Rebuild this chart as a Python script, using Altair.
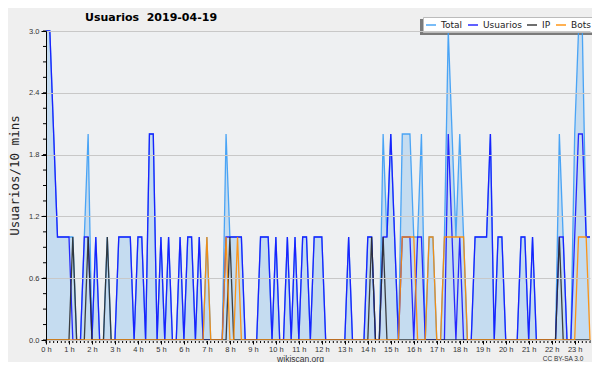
import altair as alt
import pandas as pd
import numpy as np

# 10-minute samples from 00:00 to 23:40 (143 samples)
total = [3, 3, 2, 1, 1, 1, 1, 1, 0, 0, 1, 2, 0, 1, 0, 0, 1, 0, 0, 1,
         1, 1, 1, 0, 1, 1, 0, 2, 2, 0, 1, 0, 1, 0, 0, 1, 0, 1, 1, 0,
         1, 0, 1, 0, 0, 0, 0, 2, 1, 1, 1, 1, 0, 0, 0, 0, 1, 1, 1, 0,
         1, 0, 0, 1, 0, 1, 0, 1, 1, 0, 1, 1, 1, 0, 0, 0, 0, 0, 0, 1,
         0, 0, 0, 0, 1, 1, 0, 0, 2, 1, 2, 1, 0, 2, 2, 2, 1, 1, 2, 0,
         1, 1, 0, 0, 1, 3, 2, 1, 2, 1, 0, 0, 1, 1, 1, 1, 2, 0, 1, 1,
         0, 0, 0, 0, 1, 1, 0, 1, 0, 0, 0, 0, 0, 0, 2, 1, 0, 0, 2, 3,
         3, 1, 1]
usuarios = [3, 3, 2, 1, 1, 1, 1, 0, 0, 0, 1, 1, 0, 1, 0, 0, 0, 0, 0, 1,
            1, 1, 1, 0, 1, 1, 0, 2, 2, 0, 1, 0, 1, 0, 0, 1, 0, 1, 1, 0,
            1, 0, 0, 0, 0, 0, 0, 1, 1, 1, 1, 1, 0, 0, 0, 0, 1, 1, 1, 0,
            1, 0, 0, 1, 0, 1, 0, 1, 1, 0, 1, 1, 1, 0, 0, 0, 0, 0, 0, 1,
            0, 0, 0, 0, 1, 1, 0, 0, 1, 1, 2, 1, 0, 1, 1, 1, 0, 1, 1, 0,
            0, 0, 0, 0, 0, 2, 1, 0, 1, 0, 0, 0, 1, 1, 1, 1, 2, 0, 1, 1,
            0, 0, 0, 0, 1, 1, 0, 1, 0, 0, 0, 0, 0, 0, 1, 1, 0, 0, 1, 2,
            2, 1, 1]
ip = [0, 0, 0, 0, 0, 0, 0, 1, 0, 0, 0, 1, 0, 0, 0, 0, 1, 0, 0, 0,
      0, 0, 0, 0, 0, 0, 0, 0, 0, 0, 0, 0, 0, 0, 0, 0, 0, 0, 0, 0,
      0, 0, 0, 0, 0, 0, 0, 0, 1, 0, 0, 0, 0, 0, 0, 0, 0, 0, 0, 0,
      0, 0, 0, 0, 0, 0, 0, 0, 0, 0, 0, 0, 0, 0, 0, 0, 0, 0, 0, 0,
      0, 0, 0, 0, 0, 1, 0, 0, 1, 0, 0, 0, 0, 0, 0, 0, 0, 0, 0, 0,
      0, 0, 0, 0, 0, 0, 0, 0, 0, 0, 0, 0, 0, 0, 0, 0, 0, 0, 0, 0,
      0, 0, 0, 0, 0, 0, 0, 0, 0, 0, 0, 0, 0, 0, 1, 0, 0, 0, 0, 0,
      0, 0, 0]
bots = [0, 0, 0, 0, 0, 0, 0, 0, 0, 0, 0, 0, 0, 0, 0, 0, 0, 0, 0, 0,
        0, 0, 0, 0, 0, 0, 0, 0, 0, 0, 0, 0, 0, 0, 0, 0, 0, 0, 0, 0,
        0, 0, 1, 0, 0, 0, 0, 1, 0, 0, 1, 0, 0, 0, 0, 0, 0, 0, 0, 0,
        0, 0, 0, 0, 0, 0, 0, 0, 0, 0, 0, 0, 0, 0, 0, 0, 0, 0, 0, 0,
        0, 0, 0, 0, 0, 0, 0, 0, 0, 0, 0, 0, 0, 1, 1, 1, 1, 0, 0, 0,
        1, 1, 0, 0, 1, 1, 1, 1, 1, 1, 0, 0, 0, 0, 0, 0, 0, 0, 0, 0,
        0, 0, 0, 0, 0, 0, 0, 0, 0, 0, 0, 0, 0, 0, 0, 0, 0, 0, 0, 1,
        1, 1, 0]

series_names = ["Total", "Usuarios", "IP", "Bots"]
series_colors = ["#3a9cf5", "#1414ff", "#2b2b2b", "#ff8c00"]
y_tick_values = [0.0, 0.6, 1.2, 1.8, 2.4, 3.0]
hour_ticks = list(range(24))

n = len(total)
hours = [i / 6 for i in range(n)]
rows = []
for name, vals in zip(series_names, [total, usuarios, ip, bots]):
    for h, v in zip(hours, vals):
        rows.append({"hour": h, "value": v, "series": name})
df = pd.DataFrame(rows)

minor_y = pd.DataFrame({"value": np.round(np.arange(0, 3.0001, 0.15), 2)})
minor_x = pd.DataFrame({"hour": hours})

W, H = 544, 309
FONT = "DejaVu Sans"
SMALL = "Liberation Sans"
x_scale = alt.Scale(domain=[0, hours[-1]], nice=False, zero=False)
y_scale = alt.Scale(domain=[0, 3], nice=False)
color_scale = alt.Scale(domain=series_names, range=series_colors)

x_axis = alt.Axis(values=hour_ticks, labelExpr="datum.value + ' h'", grid=False,
                  title="wikiscan.org", titleFont=SMALL, titleFontSize=8.5,
                  titleFontWeight="normal", titleColor="#333", titleX=254,
                  titleY=21, titleBaseline="alphabetic",
                  labelFont=SMALL, labelFontSize=7.5, labelColor="#333",
                  labelPadding=1, tickSize=4, tickColor="black",
                  domainColor="black", labelOverlap=False, labelFlush=False)
y_axis = alt.Axis(values=y_tick_values, format=".1f", grid=True, gridColor="#c8c8c8",
                  gridWidth=1, title="Usuarios/10 mins", titleFont="DejaVu Sans Mono",
                  titleFontSize=12.5, titleFontWeight="normal", titleColor="#222",
                  titleX=-32, titleY=144, titleAngle=270, titleAlign="center",
                  titleBaseline="middle",
                  labelFont=SMALL, labelFontSize=7.5, labelColor="#333", labelPadding=2,
                  tickSize=5, tickColor="black", domainColor="black", zindex=1)

X = alt.X("hour:Q", scale=x_scale, axis=x_axis)
Y = alt.Y("value:Q", scale=y_scale, axis=y_axis)

area = alt.Chart(df).transform_filter(alt.datum.series == "Total").mark_area(
    color="#c5dcf0", opacity=1, interpolate="linear"
).encode(x=X, y=Y)

legend_shadow = alt.Chart(pd.DataFrame({"k": [0]})).mark_rect(
    color="#7a7a7a"
).encode(x=alt.value(374), x2=alt.value(548), y=alt.value(-12), y2=alt.value(4))

legend = alt.Legend(title=None, orient="none", legendX=377, legendY=-14,
                    direction="horizontal", symbolType="stroke", symbolStrokeWidth=1.5,
                    symbolSize=100, labelFont=FONT, labelFontSize=9, labelColor="#222",
                    fillColor="white", strokeColor="#bbb", padding=2, columnPadding=2,
                    labelOffset=4, gridAlign="none")

line_layers = []
for name in series_names:
    line_layers.append(
        alt.Chart(df).transform_filter(alt.datum.series == name).mark_line(
            strokeWidth=1.3, opacity=0.9, interpolate="linear"
        ).encode(
            x=X, y=Y,
            color=alt.Color("series:N", scale=color_scale, legend=legend),
        )
    )

ticks_y = alt.Chart(minor_y).mark_rule(color="black", strokeWidth=1).encode(
    y=Y, x=alt.value(-3), x2=alt.value(0)
)
ticks_x = alt.Chart(minor_x).mark_rule(color="black", strokeWidth=1).encode(
    x=X, y=alt.value(H), y2=alt.value(H + 3)
)
title_text = alt.Chart(pd.DataFrame({"t": ["Usuarios\u00a0\u00a02019-04-19"]})).mark_text(
    font=FONT, fontSize=11, fontWeight="bold", color="black", align="left",
    baseline="alphabetic"
).encode(text="t:N", x=alt.value(39), y=alt.value(-10))
license_text = alt.Chart(pd.DataFrame({"t": ["CC BY-SA 3.0"]})).mark_text(
    font=SMALL, fontSize=6.5, color="#333", align="center", baseline="alphabetic"
).encode(text="t:N", x=alt.value(517), y=alt.value(H + 21))

chart = alt.layer(area, legend_shadow, *line_layers, ticks_y, ticks_x,
                  title_text, license_text).properties(
    width=W, height=H,
    autosize=alt.AutoSizeParams(type="none"),
    padding={"left": 38, "top": 23, "right": 2, "bottom": 22},
    background="#efefef",
).configure_view(fill="#eef0f2", stroke=None)

chart.save("out.html", embed_options={"renderer": "svg", "actions": False})
